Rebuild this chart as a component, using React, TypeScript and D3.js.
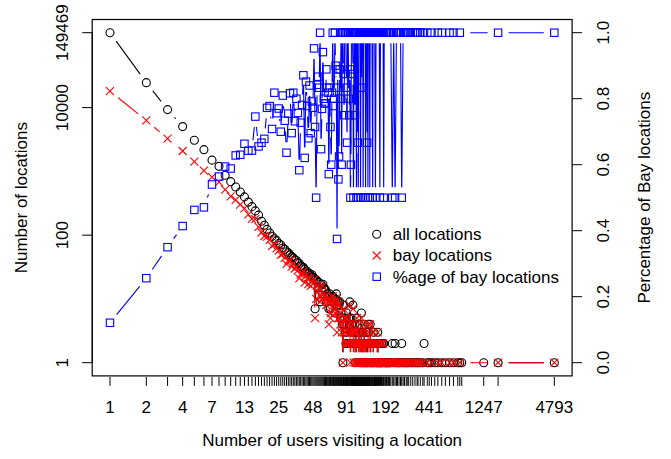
import React from "react";
import * as d3 from "d3";

// distinct "number of users" values (x)
const users = [
  1,2,3,4,5,6,7,8,9,10,11,12,13,14,15,16,17,18,19,20,
  21,22,23,24,25,26,27,28,29,30,31,32,33,34,35,36,37,38,39,40,
  41,42,43,44,45,46,47,48,49,50,51,52,53,54,55,56,57,58,59,60,
  61,62,63,64,65,66,67,68,69,70,71,72,73,74,75,76,77,78,79,80,
  81,82,83,84,85,86,87,88,89,90,91,92,93,94,95,96,97,98,99,100,
  101,102,103,104,105,106,107,108,109,110,111,112,113,114,115,116,117,118,119,120,
  121,122,123,124,125,126,127,128,129,130,131,132,133,134,135,136,137,138,139,140,
  141,142,143,
  145,146,148,150,151,153,155,156,158,160,
  161,163,165,167,168,170,172,174,176,178,
  180,183,185,187,192,195,198,203,207,212,
  218,224,230,236,241,248,255,261,268,275,
  284,290,298,310,322,336,350,356,372,390,
  400,425,441,460,490,520,560,600,650,700,
  760,790,820,1247,1640,4793,
];

// number of all locations visited by that many users
const allCounts = [
  149469,24600,9300,5040,3080,2190,1500,1200,870,690,
  570,476,398,330,280,240,206,165,143,123,
  108,96,88,82,74,70,63,60,55,53,
  49,46,44,41,40,37,36,33,32,31,
  29,27,27,25,25,23,24,22,21,7,
  20,19,15,18,9,17,13,17,15,14,
  14,9,12,11,7,12,7,10,11,11,
  9,10,6,10,12,8,9,9,8,9,
  5,6,5,4,1,8,4,5,3,2,
  6,3,4,2,5,4,9,2,5,3,
  2,4,8,2,3,2,4,1,3,2,
  5,2,3,2,1,4,2,3,2,1,
  6,2,1,3,2,2,1,4,2,1,
  2,3,1,2,3,1,2,4,3,2,
  1,2,4,
  1,2,1,2,1,3,2,1,2,1,
  2,1,3,1,2,1,2,1,1,2,
  1,2,2,1,1,1,1,1,1,1,
  2,1,2,1,1,1,1,2,1,1,
  1,1,1,1,1,1,1,1,1,1,
  2,1,1,1,1,1,1,1,1,1,
  1,1,1,1,1,1,
];

// number of bay locations visited by that many users (0 = none)
const bayCounts = [
  18085,6300,3255,2087,1426,1031,810,677,517,406,
  358,300,264,212,180,179,135,110,97,95,
  84,68,72,62,57,49,51,44,35,40,
  40,32,36,30,32,28,21,24,25,27,
  18,23,21,17,21,16,19,17,20,5,
  10,16,13,15,9,11,10,16,12,11,
  11,8,10,9,4,10,5,6,9,11,
  7,8,6,9,10,3,8,5,5,8,
  4,6,3,4,1,7,3,5,3,2,
  5,2,4,2,4,3,8,1,3,3,
  2,4,7,1,3,2,3,1,3,1,
  5,2,2,1,1,4,2,3,1,1,
  5,2,1,3,1,2,1,4,2,1,
  1,3,1,2,2,1,1,4,3,2,
  1,1,4,
  1,2,1,1,1,3,2,1,1,1,
  2,1,3,1,2,1,1,1,1,2,
  1,2,1,1,1,1,1,1,1,1,
  1,1,1,1,1,1,1,1,1,1,
  1,1,1,1,1,1,1,1,1,1,
  0,1,0,1,0,1,1,0,1,1,
  0,1,0,0,1,1,
];

const xTickValues = [1, 2, 4, 7, 13, 25, 48, 91, 192, 441, 1247, 4793];
const leftTickValues = [1, 100, 10000, 149469];
const rightTickValues = [0, 0.2, 0.4, 0.6, 0.8, 1.0];
const legendLabels = ["all locations", "bay locations", "%age of bay locations"];

const W = 671;
const H = 459;
const box = { l: 92.2, r: 572.1, t: 19.5, b: 375.9 };
const FONT = "'Liberation Sans', Arial, Helvetica, sans-serif";
const FS = 17;
const GAP = 10.5;
const SW = 1.1;

function padLog(lo: number, hi: number) {
  const a = Math.log10(lo), b = Math.log10(hi);
  const p = 0.04 * (b - a);
  return [Math.pow(10, a - p), Math.pow(10, b + p)];
}

const x = d3.scaleLog().domain(padLog(1, d3.max(users)!)).range([box.l, box.r]);
const y = d3.scaleLog().domain(padLog(1, d3.max(allCounts)!)).range([box.b, box.t]);
const yP = d3.scaleLinear().domain([-0.04, 1.04]).range([box.b, box.t]);

type P = [number, number];

function bSegments(pts: P[]) {
  const segs: string[] = [];
  for (let i = 0; i < pts.length - 1; i++) {
    const [x1, y1] = pts[i];
    const [x2, y2] = pts[i + 1];
    const dx = x2 - x1, dy = y2 - y1;
    const d = Math.hypot(dx, dy);
    if (d <= 2 * GAP) continue;
    const ux = dx / d, uy = dy / d;
    segs.push(
      `M${(x1 + ux * GAP).toFixed(2)},${(y1 + uy * GAP).toFixed(2)}L${(x2 - ux * GAP).toFixed(2)},${(y2 - uy * GAP).toFixed(2)}`
    );
  }
  return segs.join("");
}

const Circle = ({ cx, cy }: { cx: number; cy: number }) => (
  <circle cx={cx} cy={cy} r={4} fill="none" stroke="#000" strokeWidth={SW} />
);
const Cross = ({ cx, cy }: { cx: number; cy: number }) => {
  const s = 4;
  return (
    <path
      d={`M${cx - s},${cy - s}L${cx + s},${cy + s}M${cx - s},${cy + s}L${cx + s},${cy - s}`}
      stroke="#FF0000"
      strokeWidth={SW}
      fill="none"
    />
  );
};
const Square = ({ cx, cy }: { cx: number; cy: number }) => {
  const s = 3.7;
  return <rect x={cx - s} y={cy - s} width={2 * s} height={2 * s} fill="none" stroke="#0000FF" strokeWidth={SW} />;
};

export default function App() {
  const allPts: P[] = users.map((u, i) => [x(u), y(allCounts[i])]);
  const bayIdx = users.map((_, i) => i).filter((i) => bayCounts[i] > 0);
  const bayPts: P[] = bayIdx.map((i) => [x(users[i]), y(bayCounts[i])]);
  const pctPts: P[] = bayIdx.map((i) => [x(users[i]), yP(bayCounts[i] / allCounts[i])]);

  const cxPlot = (box.l + box.r) / 2;
  const cyPlot = (box.t + box.b) / 2;

  return (
    <svg
      width={W}
      height={H}
      style={{ position: "absolute", left: 0, top: 0, background: "#fff" }}
      fontFamily={FONT}
      fontSize={FS}
    >
      <rect x={0} y={0} width={W} height={H} fill="#fff" />
      {/* all locations */}
      <path d={bSegments(allPts)} stroke="#000" strokeWidth={SW} fill="none" />
      {allPts.map(([cx, cy], i) => (
        <Circle key={"a" + i} cx={cx} cy={cy} />
      ))}
      {/* bay locations */}
      <path d={bSegments(bayPts)} stroke="#FF0000" strokeWidth={SW} fill="none" />
      {bayPts.map(([cx, cy], i) => (
        <Cross key={"b" + i} cx={cx} cy={cy} />
      ))}
      {/* percentage */}
      <path d={bSegments(pctPts)} stroke="#0000FF" strokeWidth={SW} fill="none" />
      {pctPts.map(([cx, cy], i) => (
        <Square key={"p" + i} cx={cx} cy={cy} />
      ))}

      {/* box */}
      <rect x={box.l} y={box.t} width={box.r - box.l} height={box.b - box.t} fill="none" stroke="#000" strokeWidth={1.2} />

      {/* rug / x ticks */}
      {users.map((u, i) => (
        <line key={"r" + i} x1={x(u)} x2={x(u)} y1={box.b + 1} y2={box.b + 10} stroke="#000" strokeWidth={1} />
      ))}
      {xTickValues.map((v) => (
        <text key={"xt" + v} x={x(v)} y={413.3} textAnchor="middle">
          {v}
        </text>
      ))}
      <text x={cxPlot} y={446} textAnchor="middle">
        Number of users visiting a location
      </text>

      {/* left axis */}
      <line x1={box.l} x2={box.l} y1={y(1)} y2={y(149469)} stroke="#000" />
      {leftTickValues.map((v) => (
        <g key={"lt" + v}>
          <line x1={box.l - 10} x2={box.l} y1={y(v)} y2={y(v)} stroke="#000" />
          <text transform={`translate(68,${y(v)}) rotate(-90)`} textAnchor="middle">
            {v}
          </text>
        </g>
      ))}
      <text transform={`translate(27,${cyPlot}) rotate(-90)`} textAnchor="middle">
        Number of locations
      </text>

      {/* right axis */}
      {rightTickValues.map((v) => (
        <g key={"rt" + v}>
          <line x1={box.r} x2={box.r + 10} y1={yP(v)} y2={yP(v)} stroke="#000" />
          <text transform={`translate(609,${yP(v)}) rotate(-90)`} textAnchor="middle">
            {v.toFixed(1)}
          </text>
        </g>
      ))}
      <text transform={`translate(650,${cyPlot}) rotate(-90)`} textAnchor="middle">
        Percentage of Bay locations
      </text>

      {/* legend */}
      {legendLabels.map((lab, i) => {
        const ly = 234.3 + i * 21.2;
        return (
          <g key={"lg" + i}>
            {i === 0 && <Circle cx={376.7} cy={ly} />}
            {i === 1 && <Cross cx={376.7} cy={ly} />}
            {i === 2 && <Square cx={376.7} cy={ly} />}
            <text x={392.7} y={ly} dy="0.35em">
              {lab}
            </text>
          </g>
        );
      })}
    </svg>
  );
}
